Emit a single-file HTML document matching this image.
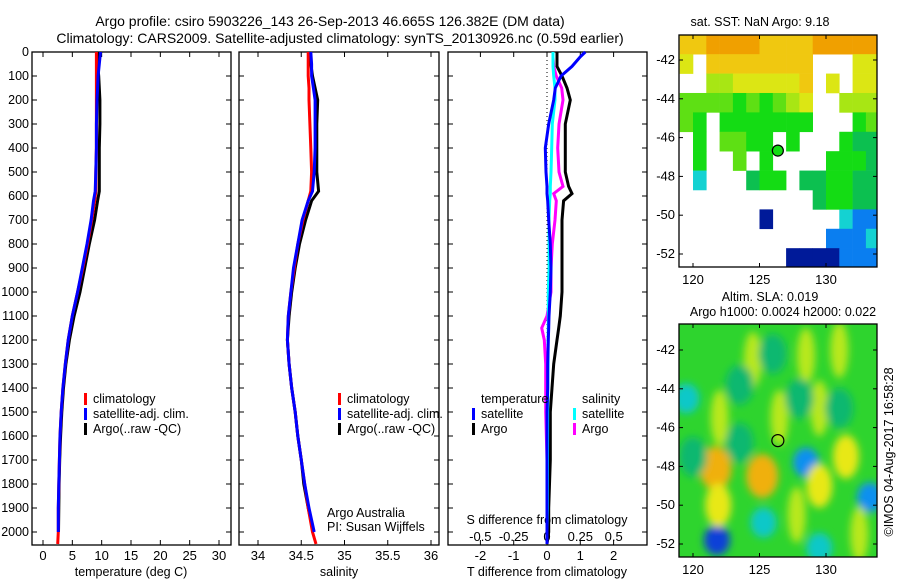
<!DOCTYPE html>
<html><head><meta charset="utf-8"><style>
body{margin:0;background:#fff;}
svg{display:block;font-family:"Liberation Sans",sans-serif;}
</style></head><body>
<svg id="fig" width="900" height="580" viewBox="0 0 900 580">
<defs>
<filter id="blur" x="-50%" y="-50%" width="200%" height="200%"><feGaussianBlur stdDeviation="4"/></filter>
<clipPath id="clip1"><rect x="679" y="35" width="198" height="232"/></clipPath>
<clipPath id="clip2"><rect x="679" y="324" width="198" height="233"/></clipPath>
</defs>
<text x="330" y="26" font-size="14" text-anchor="middle">Argo profile: csiro 5903226_143 26-Sep-2013 46.665S 126.382E (DM data)</text>
<text x="340" y="43" font-size="14" text-anchor="middle">Climatology: CARS2009. Satellite-adjusted climatology: synTS_20130926.nc (0.59d earlier)</text>
<g id="g"></g>
</svg>
<script>
// ---- profile data ----
const depths = [0,50,100,150,200,300,400,500,580,620,700,800,900,1000,1100,1200,1300,1400,1500,1600,1700,1800,1900,2000,2050];
const tempClim = [9.1,9.1,9.1,9.1,9.1,9.1,9.1,9.0,9.0,8.8,8.3,7.6,6.8,5.9,5.0,4.3,3.8,3.4,3.1,2.9,2.8,2.7,2.6,2.6,2.5];
const tempSat = [9.8,9.6,9.4,9.3,9.2,9.1,9.1,9.0,8.9,8.6,8.2,7.5,6.7,5.9,5.0,4.3,3.8,3.4,3.1,2.9,2.8,2.7,2.6,2.6];
const tempArgo = [9.4,9.3,9.5,9.6,9.7,9.7,9.6,9.6,9.6,9.3,8.8,7.9,7.1,6.3,5.3,4.5,3.9,3.5,3.2,3.0,2.85,2.75,2.7,2.65];
const salClim = [34.58,34.58,34.58,34.59,34.59,34.6,34.61,34.62,34.61,34.58,34.52,34.46,34.42,34.38,34.35,34.34,34.36,34.39,34.43,34.46,34.5,34.54,34.58,34.63,34.67];
const salSat = [34.61,34.62,34.62,34.64,34.66,34.66,34.66,34.65,34.63,34.58,34.51,34.46,34.41,34.38,34.35,34.34,34.36,34.39,34.43,34.46,34.5,34.54,34.59,34.65];
const salArgo = [34.6,34.61,34.63,34.66,34.69,34.68,34.68,34.68,34.7,34.62,34.55,34.48,34.43,34.39,34.36,34.34,34.36,34.39,34.43,34.46,34.5,34.53,34.58,34.64];
const diffDepth = [0,20,60,100,150,200,300,400,500,560,590,620,700,800,900,1000,1100,1150,1200,1300,1400,1500,1700,1900,2000,2050];
const dTsat = [1.15,1.0,0.75,0.42,0.25,0.2,0.05,-0.05,-0.03,0,0,0.02,0.05,0.1,0.12,0.1,0.06,0.05,0.04,0.02,0.02,0,0,0,0,0];
const dTargo = [0.3,0.3,0.3,0.45,0.6,0.7,0.55,0.55,0.55,0.65,0.75,0.5,0.45,0.45,0.45,0.45,0.4,0.35,0.3,0.2,0.15,0.1,0.1,0.05,0.05,0];
const dSsat = [0.045,0.045,0.045,0.05,0.06,0.06,0.04,0.035,0.03,0.025,0.025,0.02,0.015,0.015,0.015,0.01,0.01,0.01,0.008,0.008,0.006,0.005,0.004,0.003,0,0];
const dSargo = [0.045,0.045,0.05,0.07,0.11,0.12,0.09,0.08,0.09,0.12,0.05,0.07,0.06,0.04,0.03,0.03,0,-0.04,-0.02,-0.01,-0.01,-0.01,0,0,0,0];
const depthTicks = [0,100,200,300,400,500,600,700,800,900,1000,1100,1200,1300,1400,1500,1600,1700,1800,1900,2000];
const tempTicks = [0,5,10,15,20,25,30];
const salTicks = [34,34.5,35,35.5,36];
const tdTicks = [-2,-1,0,1,2];
const sdTicks = [-0.5,-0.25,0,0.25,0.5];
// ---- SST map (1-degree cells, lon 119..133, rows from -40.7 south), '.' = missing ----
const sstRows = ["889999888899999","7.88888888...77","..66777778.7.77","5555454567..666","54.4444444...45",".4.5544.4...433",".4..5.4....4443",".2...344.334433","..........34433","......0.....211","...........1112","........0000111"];
const sstColors = ['#001a99','#0a7ef0','#14d2d2','#0cc050','#14dc14','#5ee014','#a8e614','#dce614','#f0c810','#f0a000'];
// ---- SLA anomaly blobs: lon, lat, level ----
const slaLon = [121.7,125.2,128.5,133.3,121.8,125.3,129.5,120,123.5,124.5,128.5,131,126.5,129.5,131.5,129.5,122,121.9,127.8,132.5,126,128,123.5,131,119.5];
const slaLat = [-48.1,-48.5,-47.8,-49.6,-51.8,-50.9,-52.2,-47.5,-46.8,-42.5,-42.3,-42,-45.5,-45,-47.5,-49,-45.5,-50,-50.5,-51.5,-42.2,-44.5,-43.8,-45,-44.5];
const slaLevel = [8,8,1,1,0,2,2,3,3,6,6,6,6,6,7,7,6,7,6,6,3,3,3,3,2];
const slaColors = ['#1040d8','#1090f0','#10c8c8','#10b870','#2ed42e','#80e020','#b8e81a','#e8e818','#f0b010'];

const NS='http://www.w3.org/2000/svg';
const G=document.getElementById('g');
function el(tag,attrs,parent){const e=document.createElementNS(NS,tag);for(const k in attrs)e.setAttribute(k,attrs[k]);(parent||G).appendChild(e);return e;}
function txt(x,y,s,size,anchor,parent){const t=el('text',{x:x,y:y,'font-size':size||12,'text-anchor':anchor||'middle'},parent);t.textContent=s;return t;}

const PT=52, PB=545;
const yD=d=>PT+0.24*d;
const xT=t=>43+5.867*t;
const xS=s=>258+86.5*(s-34);
const xDT=v=>547+33.3*v;
const xDS=v=>547+133.3*v;
const panels=[[32,231],[239,439],[448,647]];

panels.forEach((p,i)=>{
  const r=el('rect',{x:p[0],y:PT,width:p[1]-p[0],height:PB-PT,fill:'none',stroke:'#000','stroke-width':1.3});
  
  
  depthTicks.forEach(d=>{
    el('line',{x1:p[0],x2:p[0]+5,y1:yD(d),y2:yD(d),stroke:'#000'});
    el('line',{x1:p[1]-5,x2:p[1],y1:yD(d),y2:yD(d),stroke:'#000'});
  });
});
depthTicks.forEach(d=>{const t=txt(29,yD(d)+4,String(d),12.5,'end');
  
  });
function xticks(vals,fx,labels,ly){vals.forEach((v,i)=>{const x=fx(v);
  el('line',{x1:x,x2:x,y1:PT,y2:PT+5,stroke:'#000'});
  el('line',{x1:x,x2:x,y1:PB-5,y2:PB,stroke:'#000'});
  if(labels){const t=txt(x,ly,labels[i],13);
  
  }});}
xticks(tempTicks,xT,tempTicks.map(String),560);
xticks(salTicks,xS,salTicks.map(String),560);
xticks(tdTicks,xDT,tdTicks.map(String),560);
sdTicks.forEach(v=>{const t=txt(xDS(v),541,String(v),13);
  
  });
[[131,'temperature (deg C)'],[339,'salinity'],[547,'T difference from climatology']].forEach(a=>{const t=txt(a[0],576,a[1],12.5);
  
  });
{const t=txt(547,524,'S difference from climatology',12.5);
  
  }

function line(vals,dep,fx,color,name,w){
  const pts=vals.map((v,i)=>fx(v).toFixed(1)+','+yD(dep[i]).toFixed(1)).join(' ');
  const pl=el('polyline',{points:pts,fill:'none',stroke:color,'stroke-width':w||3,'stroke-linejoin':'miter'});
  
  
}
el('line',{x1:547,x2:547,y1:PT,y2:PB,stroke:'#000','stroke-dasharray':'1 3'});
line(tempArgo,depths,xT,'#000','temp-argo-line');
line(tempClim,depths,xT,'#f00','temp-climatology-line');
line(tempSat,depths,xT,'#00f','temp-satellite-line');
line(salArgo,depths,xS,'#000','sal-argo-line');
line(salClim,depths,xS,'#f00','sal-climatology-line');
line(salSat,depths,xS,'#00f','sal-satellite-line');
line(dTargo,diffDepth,xDT,'#000','tdiff-argo-line');
line(dSargo,diffDepth,xDS,'#f0f','sdiff-argo-line');
line(dSsat,diffDepth,xDS,'#0ff','sdiff-satellite-line');
line(dTsat,diffDepth,xDT,'#00f','tdiff-satellite-line');

function legend(x,y,items,name){const g=el('g',{});
  
  
  items.forEach((it,i)=>{const yy=y+i*15;
    if(it[1])el('rect',{x:x,y:yy-10,width:3,height:12,fill:it[1]},g);
    txt(x+9,yy,it[0],12.5,'start',g);});}
legend(84,403,[['climatology','#f00'],['satellite-adj. clim.','#00f'],['Argo(..raw -QC)','#000']],'temp-legend');
legend(338,403,[['climatology','#f00'],['satellite-adj. clim.','#00f'],['Argo(..raw -QC)','#000']],'sal-legend');
legend(472,403,[['temperature',null],['satellite','#00f'],['Argo','#000']],'tdiff-legend');
legend(573,403,[['salinity',null],['satellite','#0ff'],['Argo','#f0f']],'sdiff-legend');
txt(327,517,'Argo Australia',12.5,'start');
txt(327,531,'PI: Susan Wijffels',12.5,'start');

// ---- maps ----
const lx=l=>693+13.3*(l-120);
const ly1=la=>60+19.4*(-42-la);
const ly2=la=>350+19.4*(-42-la);
const m1=el('g',{'clip-path':'url(#clip1)'});


sstRows.forEach((row,j)=>{[...row].forEach((c,i)=>{if(c==='.')return;
  const top=-40.7-j;
  el('rect',{x:lx(119+i),y:ly1(top),width:13.6,height:19.7,fill:sstColors[+c]},m1);});});
const m2=el('g',{'clip-path':'url(#clip2)'});


el('rect',{x:679,y:324,width:198,height:233,fill:'#2ed42e'},m2);
const bg=el('g',{filter:'url(#blur)'},m2);
slaLon.forEach((lo,i)=>{const lv=slaLevel[i];
  const big=(lv===8)?[16,22]:(lv===7?[13,22]:(lv===6?[9,28]:(lv===3?[14,20]:[13,15])));
  el('ellipse',{cx:lx(lo),cy:ly2(slaLat[i]),rx:big[0],ry:big[1],fill:slaColors[lv]},bg);});
function mapFrame(y0,y1,fy){
  el('rect',{x:679,y:y0,width:198,height:y1-y0,fill:'none',stroke:'#000','stroke-width':1.3});
  [120,125,130].forEach(l=>{el('line',{x1:lx(l),x2:lx(l),y1:y0,y2:y0+4,stroke:'#000'});
    el('line',{x1:lx(l),x2:lx(l),y1:y1-4,y2:y1,stroke:'#000'});
    const t=txt(lx(l),y1+17,String(l),13);
    
    });
  [-42,-44,-46,-48,-50,-52].forEach(la=>{const y=fy(la);
    el('line',{x1:679,x2:683,y1:y,y2:y,stroke:'#000'});
    el('line',{x1:873,x2:877,y1:y,y2:y,stroke:'#000'});
    const t=txt(675,y+4,String(la),13,'end');
    
    });
}
mapFrame(35,267,ly1);
mapFrame(324,557,ly2);
txt(760,26,'sat. SST: NaN Argo: 9.18',12.5);
txt(770,301,'Altim. SLA: 0.019',12.5);
txt(783,316,'Argo h1000: 0.0024 h2000: 0.022',12.5);
el('circle',{cx:lx(126.38),cy:ly1(-46.67),r:5.5,fill:'#14dc14',stroke:'#000','stroke-width':1.2});
el('circle',{cx:lx(126.38),cy:ly2(-46.67),r:6,fill:'none',stroke:'#000','stroke-width':1.2});
const st=txt(0,0,'\u00a9IMOS 04-Aug-2017 16:58:28',12.5);
st.setAttribute('transform','translate(893,452) rotate(-90)');


</script>
</body></html>
